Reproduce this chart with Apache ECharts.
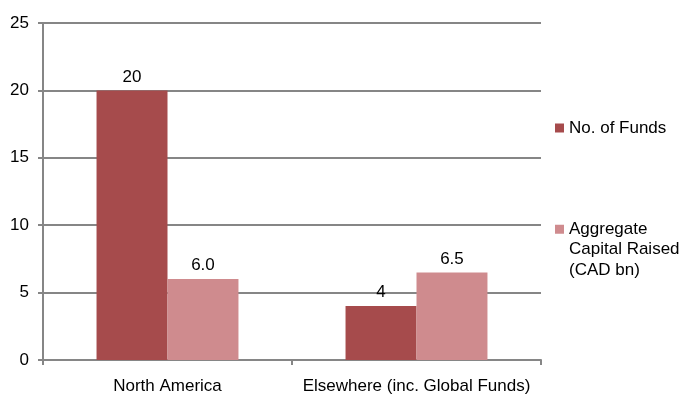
<!DOCTYPE html>
<html>
<head>
<meta charset="utf-8">
<script src="https://cdn.jsdelivr.net/npm/echarts@6/dist/echarts.min.js"></script>
<style>html,body{margin:0;padding:0;background:#fff;}#c{width:683px;height:395px;}</style>
</head>
<body>
<div id="c"></div>
<script>
var categories = ['North America', 'Elsewhere (inc. Global Funds)'];
var seriesNames = ['No. of Funds', 'Aggregate Capital Raised (CAD bn)'];
var numFunds = [20, 4];
var capitalRaised = [6.0, 6.5];
var yTicks = [0, 5, 10, 15, 20, 25];

var FONT = 'Liberation Sans, Arial, sans-serif';
var FS = 17;
var GRAY = '#868686';
var chart = echarts.init(document.getElementById('c'), null, {renderer: 'canvas'});
chart.setOption({
  animation: false,
  backgroundColor: '#fff',
  grid: {left: 43, right: 142, top: 23, bottom: 34, containLabel: false},
  legend: [
    {
      data: [seriesNames[0]], orient: 'vertical', left: 555, top: 118, padding: 0,
      itemWidth: 9, itemHeight: 9, icon: 'rect',
      textStyle: {fontFamily: FONT, fontSize: FS, color: '#000', lineHeight: 20}
    },
    {
      data: [seriesNames[1]], orient: 'vertical', left: 555, top: 178, padding: 0,
      itemWidth: 9, itemHeight: 9, icon: 'rect',
      formatter: function () { return '\n\nAggregate\nCapital Raised\n(CAD bn)'; },
      textStyle: {fontFamily: FONT, fontSize: FS, color: '#000', lineHeight: 20.5}
    }
  ],
  xAxis: {
    type: 'category', data: categories,
    axisLine: {show: true, lineStyle: {color: GRAY, width: 2}},
    axisTick: {show: true, length: 5, alignWithLabel: false, lineStyle: {color: GRAY, width: 2}},
    axisLabel: {interval: 0, fontFamily: FONT, fontSize: FS, color: '#000', margin: 18}
  },
  yAxis: {
    type: 'value', min: yTicks[0], max: yTicks[yTicks.length - 1], interval: yTicks[1] - yTicks[0],
    axisLine: {show: true, lineStyle: {color: GRAY, width: 2}},
    axisTick: {show: true, length: 5, lineStyle: {color: GRAY, width: 2}},
    splitLine: {show: true, lineStyle: {color: GRAY, width: 2}},
    axisLabel: {fontFamily: FONT, fontSize: FS, color: '#000', margin: 14}
  },
  series: [
    {
      name: seriesNames[0], type: 'bar', data: numFunds, barGap: '0%', barCategoryGap: '43%',
      itemStyle: {color: '#A64B4C'},
      label: {show: true, position: 'top', distance: 5, fontFamily: FONT, fontSize: FS, color: '#000',
        formatter: function (p) { return String(p.value); }}
    },
    {
      name: seriesNames[1], type: 'bar', data: capitalRaised, barGap: '0%', barCategoryGap: '43%',
      itemStyle: {color: '#CF8B8E'},
      label: {show: true, position: 'top', distance: 5, fontFamily: FONT, fontSize: FS, color: '#000',
        formatter: function (p) { return p.value.toFixed(1); }}
    }
  ]
});
</script>
</body>
</html>
